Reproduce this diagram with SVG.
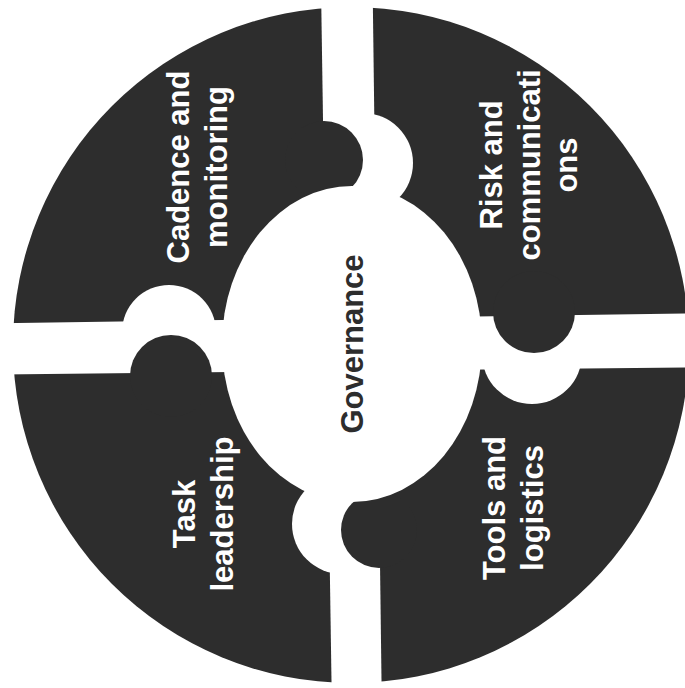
<svg xmlns="http://www.w3.org/2000/svg" width="685" height="688" viewBox="0 0 685 688">
  <style>
    .dark { fill: #2d2d2d; }
    .gap { fill: #ffffff; }
    .lbl { font-family: "Liberation Sans", Arial, Helvetica, sans-serif; font-weight: bold; font-size: 31px; fill: #ffffff; text-anchor: middle; }
    .ctr { font-family: "Liberation Sans", Arial, Helvetica, sans-serif; font-weight: bold; font-size: 31px; fill: #2d2d2d; text-anchor: middle; }
  </style>
  <rect width="685" height="688" fill="#ffffff"/>
  <g id="quadrant-shapes">
    <circle class="dark" cx="351" cy="345" r="338"/>
    <polygon class="gap" points="321.2,0 372.8,0 381.6,688 331.6,688"/>
    <polygon class="gap" points="0,323.2 685,313.6 685,367.4 0,374.5"/>
    <g id="sockets">
      <circle class="gap" cx="363" cy="163" r="50"/>
      <circle class="gap" cx="169" cy="332" r="47"/>
      <circle class="gap" cx="342" cy="524" r="50"/>
      <circle class="gap" cx="532" cy="354" r="50"/>
    </g>
    <g id="knobs">
      <circle class="dark" cx="324" cy="160" r="39"/>
      <circle class="dark" cx="171" cy="376" r="41"/>
      <circle class="dark" cx="379" cy="530" r="38"/>
      <circle class="dark" cx="534" cy="312" r="41"/>
    </g>
  </g>
  <g id="connectors"/>
  <g id="node-cadence">
    <text class="lbl" transform="translate(189,167) rotate(-90)"><tspan x="0" y="0">Cadence and</tspan><tspan x="0" y="37.5">monitoring</tspan></text>
  </g>
  <g id="node-risk">
    <text class="lbl" transform="translate(502,165) rotate(-90)"><tspan x="0" y="0">Risk and</tspan><tspan x="0" y="37.5">communicati</tspan><tspan x="0" y="75">ons</tspan></text>
  </g>
  <g id="node-task">
    <text class="lbl" transform="translate(195,514) rotate(-90)"><tspan x="0" y="0">Task</tspan><tspan x="0" y="37.5">leadership</tspan></text>
  </g>
  <g id="node-tools">
    <text class="lbl" transform="translate(505,508) rotate(-90)"><tspan x="0" y="0">Tools and</tspan><tspan x="0" y="37.5">logistics</tspan></text>
  </g>
  <g id="node-governance">
    <ellipse cx="352" cy="344" rx="130" ry="158" fill="#ffffff"/>
    <text class="ctr" transform="translate(363,344) rotate(-90)">Governance</text>
  </g>
</svg>
